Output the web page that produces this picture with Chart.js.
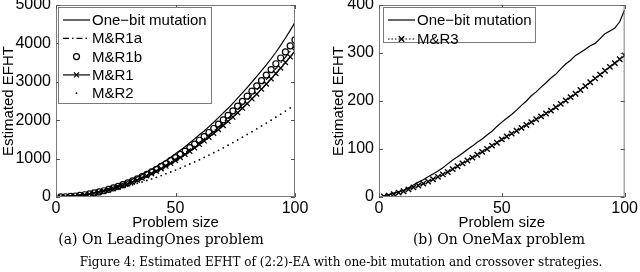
<html lang="en">
<head>
  <meta charset="UTF-8" />
  <title>Estimated EFHT</title>
  <script src="https://cdn.jsdelivr.net/npm/chart.js"></script>
  <style>
    body {
      margin: 0;
      width: 640px;
      height: 272px;
      overflow: hidden;
      background: #fff;
      position: relative;
      font-family: 'DejaVu Serif', serif;
    }
    .plot { position: absolute; top: -20px; }
    #left { left: 0; }
    #right { left: 320px; }
    .cap {
      position: absolute;
      text-align: center;
      color: #000;
      white-space: nowrap;
      line-height: 16px;
    }
  </style>
</head>
<body>
  <div id="left" class="plot" style="width:315px;height:252px"><canvas id="chartLO"></canvas></div>
  <div id="right" class="plot" style="width:320px;height:252px"><canvas id="chartOM"></canvas></div>

  <div class="cap" style="left:11px;width:300px;top:231px;font-size:14px">(a) On LeadingOnes problem</div>
  <div class="cap" style="left:349px;width:300px;top:231px;font-size:14px">(b) On OneMax problem</div>
  <div class="cap" style="left:21px;width:640px;top:254px;font-size:12px">Figure 4: Estimated EFHT of (2:2)-EA with one-bit mutation and crossover strategies.</div>

  <script>
    // problem sizes (x)
    const sizes = [2, 4, 6, 8, 10, 12, 14, 16, 18, 20, 22, 24, 26, 28, 30, 32, 34, 36, 38, 40,
      42, 44, 46, 48, 50, 52, 54, 56, 58, 60, 62, 64, 66, 68, 70, 72, 74, 76, 78, 80,
      82, 84, 86, 88, 90, 92, 94, 96, 98, 100];

    // (a) LeadingOnes
    const oneBitLO = [2, 7, 16, 29, 45, 65, 88, 115, 146, 180, 218, 259, 304, 353, 405, 461, 520, 583, 650, 720,
      794, 871, 952, 1037, 1125, 1217, 1312, 1411, 1514, 1620, 1720, 1832, 1948, 2068, 2190, 2310, 2440, 2575, 2710, 2850,
      2995, 3140, 3290, 3440, 3600, 3770, 3950, 4140, 4340, 4550];
    const mr1aLO = [2, 6, 14, 25, 40, 57, 77, 101, 128, 158, 191, 228, 267, 310, 356, 405, 457, 512, 571, 632,
      697, 765, 836, 910, 988, 1068, 1152, 1239, 1329, 1422, 1518, 1618, 1721, 1826, 1936, 2048, 2163, 2282, 2403, 2528,
      2656, 2787, 2922, 3059, 3200, 3343, 3490, 3640, 3794, 3950];
    const mr1bLO = [2, 7, 15, 26, 41, 59, 81, 105, 133, 163, 199, 236, 277, 322, 370, 419, 474, 531, 591, 657,
      722, 795, 866, 946, 1023, 1110, 1194, 1287, 1378, 1478, 1573, 1680, 1784, 1897, 2008, 2126, 2243, 2369, 2492, 2625,
      2755, 2894, 3030, 3176, 3318, 3470, 3620, 3778, 3935, 4090];
    const mr1LO = [2, 6, 14, 24, 38, 55, 75, 97, 123, 152, 184, 219, 257, 298, 342, 389, 439, 492, 549, 608,
      670, 736, 804, 875, 950, 1027, 1108, 1192, 1278, 1368, 1461, 1556, 1655, 1757, 1862, 1970, 2081, 2195, 2312, 2432,
      2555, 2681, 2810, 2943, 3078, 3216, 3358, 3502, 3650, 3800];
    const mr2LO = [3, 8, 16, 28, 42, 58, 76, 95, 117, 140, 166, 193, 222, 253, 285, 319, 355, 392, 430, 470,
      513, 557, 603, 651, 700, 752, 805, 860, 914, 970, 1030, 1091, 1153, 1216, 1280, 1348, 1417, 1487, 1558, 1630,
      1702, 1776, 1850, 1924, 2000, 2078, 2157, 2238, 2319, 2400];

    // (b) OneMax
    const oneBitOM = [2, 5, 8, 11, 14, 19, 25, 31, 36, 42, 48, 54, 61, 69, 77, 84, 91, 99, 106, 114,
      121, 129, 137, 147, 156, 164, 172, 181, 191, 200, 211, 219, 229, 238, 248, 256, 267, 277, 285, 295,
      301, 308, 315, 320, 330, 340, 346, 352, 365, 390];
    const mr3OM = [1, 3, 6, 9, 12, 16, 20, 24, 28, 32, 37, 42, 47, 52, 58, 64, 70, 76, 82, 88,
      94, 100, 107, 113, 120, 126, 132, 138, 144, 150, 156, 162, 168, 174, 180, 187, 194, 201, 208, 215,
      223, 231, 239, 247, 255, 263, 271, 279, 287, 295];

    // tick labels
    const xTicks = [0, 50, 100];
    const yTicksLO = [0, 1000, 2000, 3000, 4000, 5000];
    const yTicksOM = [0, 100, 200, 300, 400];

    Chart.defaults.font.family = "'Liberation Sans', Arial, sans-serif";
    Chart.defaults.font.size = 14;
    Chart.defaults.color = '#000';

    const pts = ys => sizes.map((x, i) => ({ x: x, y: ys[i] }));

    // matlab style box with inward ticks
    const frame = {
      id: 'frame',
      afterDatasetsDraw(chart) {
        const { ctx, chartArea: a, scales } = chart;
        ctx.save();
        ctx.strokeStyle = '#7a7a7a';
        ctx.lineWidth = 1;
        ctx.setLineDash([]);
        ctx.strokeRect(a.left + 0.5, a.top + 0.5, a.right - a.left - 1, a.bottom - a.top - 1);
        ctx.strokeStyle = '#555';
        ctx.beginPath();
        scales.x.ticks.forEach(t => {
          const px = Math.round(scales.x.getPixelForValue(t.value)) + 0.5;
          ctx.moveTo(px, a.bottom); ctx.lineTo(px, a.bottom - 4);
          ctx.moveTo(px, a.top); ctx.lineTo(px, a.top + 4);
        });
        scales.y.ticks.forEach(t => {
          const py = Math.round(scales.y.getPixelForValue(t.value)) + 0.5;
          ctx.moveTo(a.left, py); ctx.lineTo(a.left + 4, py);
          ctx.moveTo(a.right, py); ctx.lineTo(a.right - 4, py);
        });
        ctx.stroke();
        ctx.restore();
      }
    };

    const boxLegend = {
      id: 'boxLegend',
      afterDraw(chart, args, o) {
        const { ctx, chartArea: a } = chart;
        const x = a.left + o.dx, y = a.top + o.dy;
        ctx.save();
        ctx.fillStyle = '#fff';
        ctx.fillRect(x, y, o.w, o.h);
        ctx.strokeStyle = '#7a7a7a';
        ctx.lineWidth = 1;
        ctx.strokeRect(x + 0.5, y + 0.5, o.w, o.h);
        ctx.font = "15px 'Liberation Sans', Arial, sans-serif";
        ctx.textBaseline = 'middle';
        chart.data.datasets.forEach((ds, i) => {
          const cy = y + o.first + o.row * i;
          const x0 = x + 5, x1 = x + 32;
          if (ds.showLine !== false) {
            ctx.strokeStyle = ds.borderColor;
            ctx.lineWidth = ds.borderWidth;
            ctx.setLineDash(ds.borderDash || []);
            ctx.beginPath();
            ctx.moveTo(x0, cy); ctx.lineTo(x1, cy);
            ctx.stroke();
          }
          ctx.setLineDash([]);
          if (ds.pointRadius > 0) {
            ctx.strokeStyle = ds.pointBorderColor;
            ctx.fillStyle = ds.pointBackgroundColor;
            ctx.lineWidth = ds.pointBorderWidth;
            Chart.helpers.drawPoint(ctx, { pointStyle: ds.pointStyle, radius: ds.pointRadius, borderWidth: ds.pointBorderWidth, rotation: 0 }, (x0 + x1) / 2, cy);
          }
          ctx.fillStyle = '#000';
          ctx.fillText(ds.label, x + 34, cy + 1);
        });
        ctx.restore();
      }
    };

    function scalesFor(yTicks, yMax, yWidth) {
      return {
        x: {
          type: 'linear', min: 0, max: 100,
          grid: { display: false, drawTicks: false },
          border: { display: false },
          afterBuildTicks: s => { s.ticks = xTicks.map(v => ({ value: v })); },
          afterFit: s => { s.height = 35; },
          ticks: { padding: 2, maxRotation: 0, font: { size: 16 }, callback: v => String(v) },
          title: { display: true, text: 'Problem size', padding: 0, font: { size: 15 } }
        },
        y: {
          min: 0, max: yMax,
          grid: { display: false, drawTicks: false },
          border: { display: false },
          afterBuildTicks: s => { s.ticks = yTicks.map(v => ({ value: v })); },
          afterFit: s => { s.width = yWidth; },
          ticks: { padding: 5, font: { size: 16 }, callback: v => String(v) },
          title: { display: true, text: 'Estimated EFHT', padding: 0, font: { size: 15 } }
        }
      };
    }

    const solid = (label, ys) => ({
      label, data: pts(ys), borderColor: '#000', borderWidth: 1.2, pointRadius: 0,
      pointStyle: 'circle', pointBorderColor: '#000', pointBackgroundColor: '#000', pointBorderWidth: 1
    });

    new Chart(document.getElementById('chartLO'), {
      type: 'line',
      data: {
        datasets: [
          solid('One\u2212bit mutation', oneBitLO),
          { label: 'M&R1a', data: pts(mr1aLO), borderColor: '#000', borderWidth: 1.2, borderDash: [6, 3, 1.5, 3],
            pointRadius: 0, pointStyle: 'circle', pointBorderColor: '#000', pointBackgroundColor: '#000', pointBorderWidth: 1 },
          { label: 'M&R1b', data: pts(mr1bLO), showLine: false, borderColor: '#000', borderWidth: 1,
            pointRadius: 3, pointStyle: 'circle', pointBorderColor: '#000', pointBackgroundColor: 'rgba(0,0,0,0)', pointBorderWidth: 1.2 },
          { label: 'M&R1', data: pts(mr1LO), borderColor: '#000', borderWidth: 1.2,
            pointRadius: 3.5, pointStyle: 'crossRot', pointBorderColor: '#000', pointBackgroundColor: '#000', pointBorderWidth: 1.2 },
          { label: 'M&R2', data: pts(mr2LO), showLine: false, borderColor: '#000', borderWidth: 1,
            pointRadius: 0.9, pointStyle: 'circle', pointBorderColor: '#000', pointBackgroundColor: '#000', pointBorderWidth: 0 }
        ]
      },
      options: {
        animation: false,
        responsive: true,
        maintainAspectRatio: false,
        layout: { padding: { top: 25, right: 20, left: 0, bottom: 0 } },
        plugins: {
          legend: { display: false },
          tooltip: { enabled: false },
          boxLegend: { dx: 2, dy: 2, w: 153, h: 96, first: 13, row: 18.3 }
        },
        scales: scalesFor(yTicksLO, 5000, 56)
      },
      plugins: [frame, boxLegend]
    });

    new Chart(document.getElementById('chartOM'), {
      type: 'line',
      data: {
        datasets: [
          solid('One\u2212bit mutation', oneBitOM),
          { label: 'M&R3', data: pts(mr3OM), borderColor: '#000', borderWidth: 1.2, borderDash: [1.5, 2],
            pointRadius: 3.8, pointStyle: 'crossRot', pointBorderColor: '#000', pointBackgroundColor: '#000', pointBorderWidth: 1.4 }
        ]
      },
      options: {
        animation: false,
        responsive: true,
        maintainAspectRatio: false,
        layout: { padding: { top: 25, right: 13, left: 10, bottom: 0 } },
        plugins: {
          legend: { display: false },
          tooltip: { enabled: false },
          boxLegend: { dx: 4, dy: 2, w: 152, h: 35, first: 13, row: 19 }
        },
        scales: scalesFor(yTicksOM, 400, 49)
      },
      plugins: [frame, boxLegend]
    });
  </script>
</body>
</html>
